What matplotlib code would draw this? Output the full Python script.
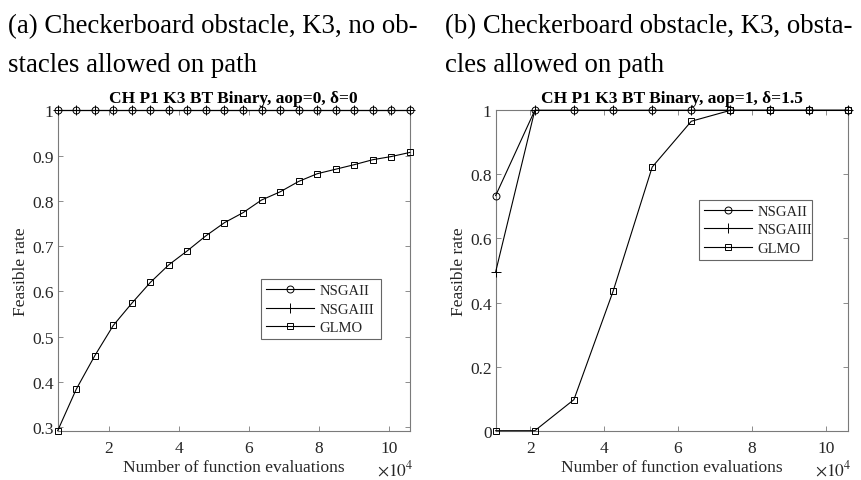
import numpy as np
import matplotlib
matplotlib.use("Agg")
import matplotlib.pyplot as plt

plt.rcParams["font.family"] = ["Liberation Serif", "DejaVu Serif"]
plt.rcParams["mathtext.fontset"] = "stix"

# ---- data ----
# (a) 20 samples, step 5300 evaluations
evals_a = np.arange(1, 21) * 5300
nsga2_a = [1.0] * 20
nsga3_a = [1.0] * 20
glmo_a = [0.2925, 0.384, 0.458, 0.525, 0.574, 0.620, 0.659, 0.690, 0.723, 0.752,
          0.774, 0.802, 0.820, 0.843, 0.860, 0.870, 0.880, 0.891, 0.898, 0.907]

# (b) 10 samples, step 10600 evaluations
evals_b = np.arange(1, 11) * 10600
nsga2_b = [0.734, 1, 1, 1, 1, 1, 1, 1, 1, 1]
nsga3_b = [0.496, 1, 1, 1, 1, 1, 1, 1, 1, 1]
glmo_b = [0.0, 0.0, 0.097, 0.435, 0.823, 0.966, 1.0, 1.0, 1.0, 1.0]

captions = ["(a) Checkerboard obstacle, K3, no ob-", "stacles allowed on path",
            "(b) Checkerboard obstacle, K3, obsta-", "cles allowed on path"]
titles = ["CH P1 K3 BT Binary, aop=0, δ=0", "CH P1 K3 BT Binary, aop=1, δ=1.5"]
names = ["NSGAII", "NSGAIII", "GLMO"]

TXT = "#262626"
AX = "#7a7a7a"
FS = 12.5

fig = plt.figure(figsize=(8.61, 4.81), dpi=100)
ax_a = fig.add_axes([0.067, 0.1025, 0.409, 0.666])
ax_b = fig.add_axes([0.5757, 0.1025, 0.409, 0.666])

for i, (x0, y0) in enumerate([(8, 33), (8, 72), (445, 33), (445, 72)]):
    fig.text(x0 / 861, 1 - y0 / 481, captions[i], fontsize=19.3, color="black",
             va="baseline")


def draw(ax, x, series, title, xlim, ylim, yticks, leg_box):
    mk = ["o", "+", "s"]
    for (y, m, lab) in zip(series, mk, names):
        ax.plot(x / 1e4, y, "-", color="black", lw=0.8, marker=m, ms=5 if m != "+" else 7,
                mfc="none", mec="black", mew=0.7, label=lab, clip_on=False, zorder=3)
    ax.set_xlim(*xlim)
    ax.set_ylim(*ylim)
    ax.set_xticks([2, 4, 6, 8, 10])
    ax.set_yticks(yticks)
    ax.set_yticklabels([("%g" % t) for t in yticks])
    ax.tick_params(direction="in", top=True, right=True, length=3.5, width=0.6,
                   colors=AX, labelcolor=TXT, labelsize=FS, pad=3)
    ax.tick_params(axis="x", pad=7)
    for s in ax.spines.values():
        s.set_color(AX)
        s.set_linewidth(0.8)
    ax.set_title(title, fontsize=12.5, fontweight="bold", color="black", pad=6)
    ax.set_xlabel("Number of function evaluations", fontsize=FS, color=TXT, labelpad=2)
    ax.set_ylabel("Feasible rate", fontsize=FS, color=TXT, labelpad=2)
    ax.text(1.01, -0.137, r"$\times10^{4}$", transform=ax.transAxes, ha="right",
            va="baseline", fontsize=FS, color=TXT)
    leg = ax.legend(loc="upper left", bbox_to_anchor=leg_box, mode="expand",
                    fontsize=10.5, frameon=True, fancybox=False, handlelength=3.3,
                    borderaxespad=0, borderpad=0.35, labelspacing=0.35, handletextpad=0.35)
    leg.get_frame().set_edgecolor("#404040")
    leg.get_frame().set_linewidth(0.8)
    for t in leg.get_texts():
        t.set_color(TXT)


draw(ax_a, evals_a, [nsga2_a, nsga3_a, glmo_a], titles[0], (0.53, 10.6), (0.2925, 1.0),
     [0.3, 0.4, 0.5, 0.6, 0.7, 0.8, 0.9, 1.0], (0.577, 0.4735, 0.341, 0.0))
draw(ax_b, evals_b, [nsga2_b, nsga3_b, glmo_b], titles[1], (1.06, 10.6), (0.0, 1.0),
     [0, 0.2, 0.4, 0.6, 0.8, 1.0], (0.577, 0.721, 0.32, 0.0))

fig.savefig("out.png", dpi=100)
